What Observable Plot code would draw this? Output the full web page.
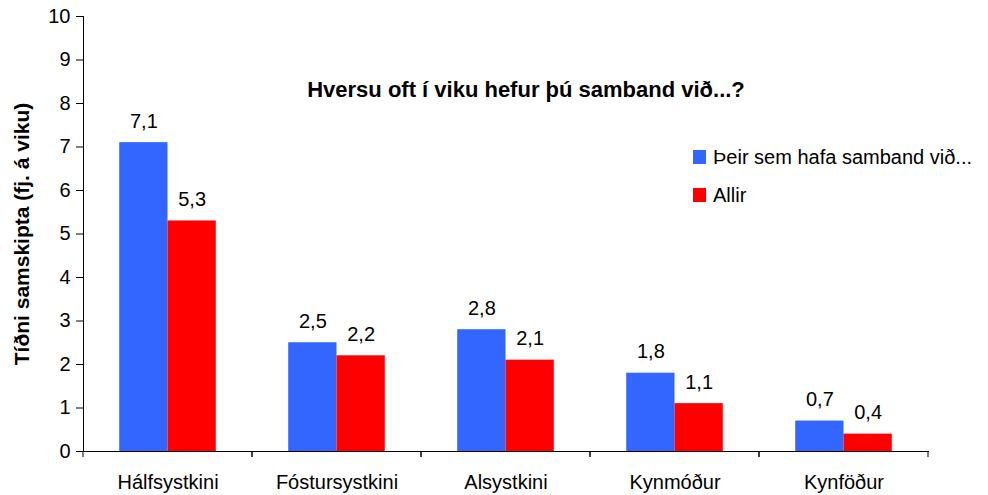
<!DOCTYPE html>
<html>
<head>
<meta charset="utf-8">
<script src="https://cdn.jsdelivr.net/npm/d3@7"></script>
<script src="https://cdn.jsdelivr.net/npm/@observablehq/plot@0.6"></script>
<style>
  body { margin: 0; background: white; }
  #wrap { position: relative; width: 988px; height: 495px; font-family: "Liberation Sans", Arial, sans-serif; color: black; }
  #title { position: absolute; left: 526px; top: 79px; transform: translateX(-50%); font-size: 22px; font-weight: bold; line-height: 22px; white-space: nowrap; }
  .leg { position: absolute; left: 693px; font-size: 20px; line-height: 20px; white-space: nowrap; display: flex; align-items: center; }
  .leg span.sw { display: inline-block; width: 13px; height: 14px; margin-right: 7px; }
  svg [aria-label="y-axis label"] { font-weight: bold; font-size: 21px; }
</style>
</head>
<body>
<div id="wrap"></div>
<script>
const categories = ["Hálfsystkini", "Fóstursystkini", "Alsystkini", "Kynmóður", "Kynföður"];
const series = ["Þeir sem hafa samband við...", "Allir"];
const valuesContact = [7.1, 2.5, 2.8, 1.8, 0.7];
const valuesAll = [5.3, 2.2, 2.1, 1.1, 0.4];
const colors = ["#3366ff", "#ff0000"];
const yTicks = [0, 1, 2, 3, 4, 5, 6, 7, 8, 9, 10];
const titleText = "Hversu oft í viku hefur þú samband við...?";
const yLabel = "Tíðni samskipta (fj. á viku)";

const data = categories.flatMap((c, i) => [
  {cat: c, s: series[0], v: valuesContact[i]},
  {cat: c, s: series[1], v: valuesAll[i]}
]);

const fmt = v => v.toFixed(1).replace(".", ",");

const boundaryTicks = (index, scales, values, dims) => {
  const y0 = scales.y(0);
  const g = d3.create("svg:g").attr("stroke", "black");
  for (const x of [dims.marginLeft, dims.width - dims.marginRight]) {
    g.append("line").attr("x1", x).attr("x2", x).attr("y1", y0).attr("y2", y0 + 6);
  }
  return g.node();
};

const chart = Plot.plot({
  width: 988,
  height: 495,
  marginLeft: 81,
  marginRight: 58,
  marginTop: 16,
  marginBottom: 44,
  style: {fontFamily: "Liberation Sans, Arial, sans-serif", fontSize: "20px", color: "black", background: "white"},
  fx: {domain: categories, padding: 0, label: null, axis: null},
  x: {domain: series, paddingInner: 0, paddingOuter: 0.75, round: false, axis: null},
  y: {domain: [0, 10], label: null},
  color: {domain: series, range: colors},
  marks: [
    Plot.barY(data, {fx: "cat", x: "s", y: "v", fill: "s"}),
    Plot.text(data, {fx: "cat", x: "s", y: "v", text: d => fmt(d.v), lineAnchor: "bottom", dy: -15, fontSize: 20, fill: "black"}),
    Plot.axisFx({anchor: "bottom", tickSize: 0, tickPadding: 23, label: null, fontSize: 20}),
    Plot.axisY({ticks: yTicks, tickSize: 7, tickPadding: 6, label: yLabel, labelAnchor: "center", labelOffset: 69, labelArrow: "none", fontSize: 20}),
    Plot.frame({anchor: "bottom"}),
    Plot.frame({anchor: "left", facetAnchor: "left"}),
    boundaryTicks
  ]
});

const wrap = document.getElementById("wrap");
wrap.appendChild(chart);

const t = document.createElement("div");
t.id = "title";
t.textContent = titleText;
wrap.appendChild(t);

const color = chart.scale("color");
series.forEach((s, i) => {
  const d = document.createElement("div");
  d.className = "leg";
  d.style.top = (147 + i * 38) + "px";
  const sw = document.createElement("span");
  sw.className = "sw";
  sw.style.background = color.apply(s);
  d.appendChild(sw);
  d.appendChild(document.createTextNode(s));
  wrap.appendChild(d);
});
</script>
</body>
</html>
